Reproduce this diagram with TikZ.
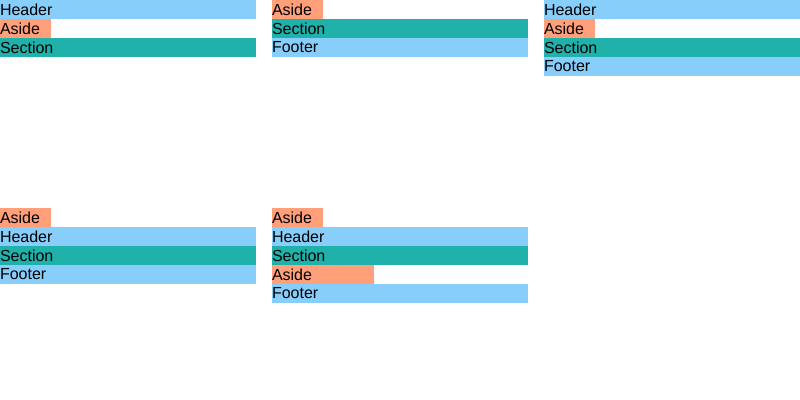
\documentclass[tikz,border=0pt]{standalone}
\usepackage{fontspec}
\setmainfont{Liberation Sans}
\definecolor{hdr}{HTML}{87CEFA}
\definecolor{asd}{HTML}{FFA07A}
\definecolor{sec}{HTML}{20B2AA}
\begin{document}
\begin{tikzpicture}[x=0.75pt,y=-0.75pt,
  bar/.style={anchor=north west, inner sep=0pt, outer sep=0pt, minimum height=14.25pt,
    text width=#1, align=left, font=\fontsize{12pt}{13pt}\selectfont, text=black},
  full/.style={bar=192pt},
  short/.style={bar=38.25pt},
  mid/.style={bar=76.5pt}]
\useasboundingbox (0,0) rectangle (800,400);
% panel 1
\node[full, fill=hdr] (p1h) at (0,0) {Header};
\node[short, fill=asd] (p1a) at (0,19) {Aside};
\node[full, fill=sec] (p1s) at (0,38) {Section};
% panel 2
\node[short, fill=asd] (p2a) at (272,0) {Aside};
\node[full, fill=sec] (p2s) at (272,19) {Section};
\node[full, fill=hdr] (p2f) at (272,38) {Footer};
% panel 3
\node[full, fill=hdr] (p3h) at (544,0) {Header};
\node[short, fill=asd] (p3a) at (544,19) {Aside};
\node[full, fill=sec] (p3s) at (544,38) {Section};
\node[full, fill=hdr] (p3f) at (544,57) {Footer};
% panel 4
\node[short, fill=asd] (p4a) at (0,208) {Aside};
\node[full, fill=hdr] (p4h) at (0,227) {Header};
\node[full, fill=sec] (p4s) at (0,246) {Section};
\node[full, fill=hdr] (p4f) at (0,265) {Footer};
% panel 5
\node[short, fill=asd] (p5a) at (272,208) {Aside};
\node[full, fill=hdr] (p5h) at (272,227) {Header};
\node[full, fill=sec] (p5s) at (272,246) {Section};
\node[mid, fill=asd] (p5b) at (272,265) {Aside};
\node[full, fill=hdr] (p5f) at (272,284) {Footer};
\end{tikzpicture}
\end{document}
